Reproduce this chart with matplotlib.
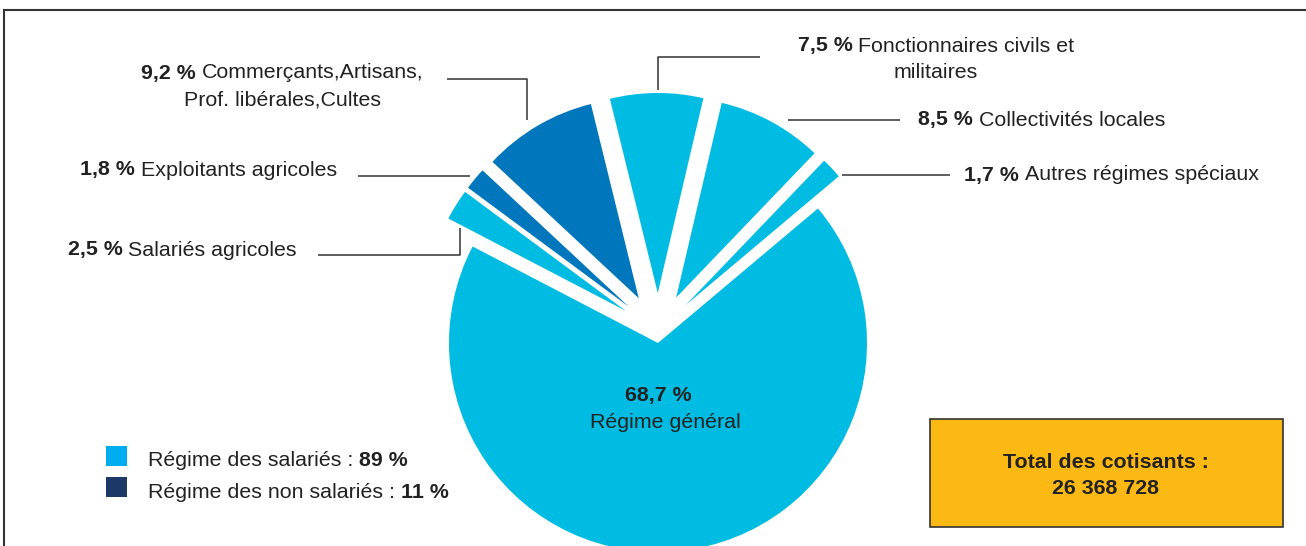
import matplotlib
matplotlib.use("Agg")
import matplotlib.pyplot as plt
from matplotlib.patches import Rectangle

# ---------------- data ----------------
categories = ["Régime général", "Autres régimes spéciaux", "Collectivités locales",
              "Fonctionnaires civils et\nmilitaires", "Commerçants,Artisans,\nProf. libérales,Cultes",
              "Exploitants agricoles", "Salariés agricoles"]
shares = [68.7, 1.7, 8.5, 7.5, 9.2, 1.8, 2.5]
share_labels = ["68,7 %", "1,7 %", "8,5 %", "7,5 %", "9,2 %", "1,8 %", "2,5 %"]
is_salarie = [True, True, True, True, False, False, True]
group_names = ["Régime des salariés :", "Régime des non salariés :"]
group_shares = ["89 %", "11 %"]
total_title = "Total des cotisants :"
total_value = "26 368 728"

# ---------------- style ----------------
W, H = 1306, 546
FONT = ["Liberation Sans", "DejaVu Sans"]
FS = 15.4
C_LIGHT = "#00BCE3"
C_DARK = "#0077BC"
C_LEG_LIGHT = "#00AEEF"
C_LEG_DARK = "#1B3866"
C_BOX = "#FDB913"
C_LINE = "#333333"

fig = plt.figure(figsize=(W / 100, H / 100), dpi=100)
ax = fig.add_axes([0, 0, 1, 1])
renderer = fig.canvas.get_renderer()

def Y(y):
    return H - y

# ---------------- pie ----------------
start = 152.5
main_center = (658, Y(343))
small_center = (658, Y(331))
colors = [C_LIGHT if s else C_DARK for s in is_salarie]

w_main, _ = ax.pie(shares, colors=colors, startangle=start, radius=209,
                   center=main_center, counterclock=True, frame=True,
                   wedgeprops=dict(linewidth=0))
for w in w_main[1:]:
    w.set_visible(False)

explode = [0] + [38] * (len(shares) - 1)
w_small, _ = ax.pie(shares, colors=colors, startangle=start, radius=200,
                    center=small_center, explode=explode, counterclock=True,
                    frame=True, wedgeprops=dict(linewidth=0))
w_small[0].set_visible(False)

ax.set_xlim(0, W)
ax.set_ylim(0, H)
ax.set_aspect("auto")
ax.axis("off")

# ---------------- rich text helper ----------------
def measure(s, bold=False, size=FS):
    t = ax.text(0, 0, s, fontsize=size, family=FONT,
                fontweight="bold" if bold else "normal")
    w = t.get_window_extent(renderer).width
    t.remove()
    return w

SPACE = measure("x x") - measure("xx")

def rich(x, y, parts, ha="left", size=FS):
    widths = [measure(s, b, size) for s, b in parts]
    total = sum(widths) + SPACE * (len(parts) - 1)
    if ha == "center":
        x0 = x - total / 2
    elif ha == "right":
        x0 = x - total
    else:
        x0 = x
    for (s, b), w in zip(parts, widths):
        ax.text(x0, Y(y), s, fontsize=size, family=FONT, va="center", ha="left",
                fontweight="bold" if b else "normal", color="#222222")
        x0 += w + SPACE

def line(xs, ys):
    ax.plot(xs, [Y(v) for v in ys], color=C_LINE, lw=1.1, solid_capstyle="butt")

# ---------------- labels ----------------
# Commerçants
rich(282, 73, [(share_labels[4], True), ("Commerçants,Artisans,", False)], ha="center")
rich(282, 100, [("Prof. libérales,Cultes", False)], ha="center")
line([447, 527, 527], [79, 79, 120])

# Fonctionnaires
rich(936, 46, [(share_labels[3], True), ("Fonctionnaires civils et", False)], ha="center")
rich(936, 72, [("militaires", False)], ha="center")
line([760, 658, 658], [57, 57, 90])

# Collectivités
rich(918, 120, [(share_labels[2], True), (categories[2], False)])
line([788, 900], [120, 120])

# Autres
rich(964, 175, [(share_labels[1], True), (categories[1], False)])
line([842, 950], [175, 175])

# Exploitants
rich(337, 170, [(share_labels[5], True), (categories[5], False)], ha="right")
line([358, 470], [176, 176])

# Salariés agricoles
rich(297, 250, [(share_labels[6], True), (categories[6], False)], ha="right")
line([318, 460, 460], [255, 255, 228])

# main slice label
rich(658, 396, [(share_labels[0], True)], ha="center")
rich(665, 422, [(categories[0], False)], ha="center")

# ---------------- legend ----------------
for i, (name, val, col) in enumerate(zip(group_names, group_shares, [C_LEG_LIGHT, C_LEG_DARK])):
    yc = 456 + i * 31
    ax.add_patch(Rectangle((106, Y(yc + 10)), 21, 20, facecolor=col, edgecolor="none"))
    rich(148, yc + 5, [(name, False), (val, True)])

# ---------------- total box ----------------
ax.add_patch(Rectangle((930, Y(527)), 353, 108, facecolor=C_BOX, edgecolor=C_LINE, lw=1.2))
rich(1106, 463, [(total_title, True)], ha="center")
rich(1106, 488, [(total_value, True)], ha="center")

# ---------------- frame ----------------
ax.plot([4, 4], [0, Y(10)], color=C_LINE, lw=1.5)
ax.plot([4, W], [Y(10), Y(10)], color=C_LINE, lw=1.5)

fig.savefig("out.png", dpi=100)
